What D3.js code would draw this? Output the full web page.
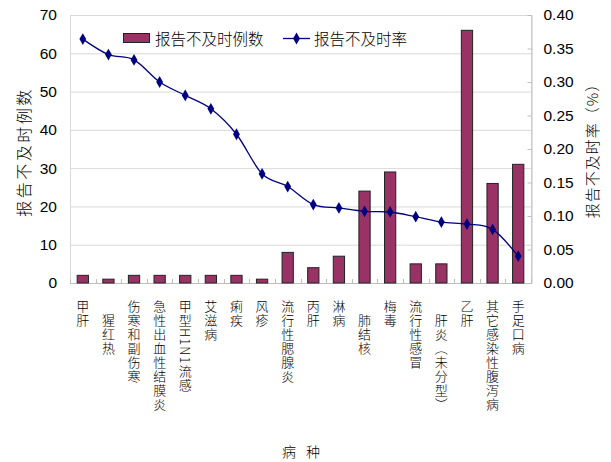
<!DOCTYPE html>
<html><head><meta charset="utf-8">
<script src="https://cdn.jsdelivr.net/npm/d3@7"></script>
<style>
body{margin:0;background:#fff;}
svg{display:block;}
text{font-family:"Noto Sans CJK SC","Liberation Sans",Arial,sans-serif;fill:#000;}
.num{font-family:"Liberation Sans",Arial,sans-serif;}
</style></head>
<body>
<svg id="chart" width="611" height="462"></svg>
<script>
const categories = ["甲肝","\u3000猩红热","伤寒和副伤寒","急性出血性结膜炎","甲型H1N1流感","艾滋病","痢疾","风疹","流行性腮腺炎","丙肝","淋病","\u3000肺结核","梅毒","流行性感冒","\u3000肝炎（未分型）","乙肝","其它感染性腹泻病","手足口病"];
const lateCounts = [2,1,2,2,2,2,2,1,8,4,7,24,29,5,5,66,26,31];
const lateRates = [0.364,0.341,0.333,0.300,0.280,0.260,0.222,0.163,0.144,0.117,0.112,0.107,0.106,0.099,0.091,0.088,0.080,0.040];
const leftTicks = [0,10,20,30,40,50,60,70];
const rightTicks = [0,0.05,0.10,0.15,0.20,0.25,0.30,0.35,0.40];
const seriesNames = ["报告不及时例数","报告不及时率"];
const leftTitle = "报告不及时例数";
const rightTitle = "报告不及时率（%）";
const xTitle = "病 种";

const svg = d3.select("#chart");
const m = {l:70, r:80, t:15, b:179};
const W = 611, H = 462;
const iw = W - m.l - m.r, ih = H - m.t - m.b;
const g = svg.append("g").attr("transform",`translate(${m.l},${m.t})`);

const x = d3.scaleBand().domain(categories).range([0,iw]).paddingInner(0.56).paddingOuter(0.28);
const yL = d3.scaleLinear().domain([0,70]).range([ih,0]);
const yR = d3.scaleLinear().domain([0,0.4]).range([ih,0]);

// gridlines
g.append("g").selectAll("line").data(leftTicks).join("line")
  .attr("x1",0).attr("x2",iw).attr("y1",d=>yL(d)+0.5).attr("y2",d=>yL(d)+0.5)
  .attr("stroke","#d9d9d9").attr("stroke-width",1);
// frame
g.append("rect").attr("x",0.5).attr("y",0.5).attr("width",iw).attr("height",ih)
  .attr("fill","none").attr("stroke","#d9d9d9");

// left axis
const ax = d3.axisLeft(yL).tickValues(leftTicks).tickSize(0).tickPadding(13);
const gL = g.append("g").call(ax);
gL.select(".domain").remove();
gL.selectAll("text").attr("class","num").style("font-size","15.5px").attr("fill","#000");

// right axis
const axR = d3.axisRight(yR).tickValues(rightTicks).tickSize(-4).tickPadding(12).tickFormat(d3.format(".2f"));
const gR = g.append("g").attr("transform",`translate(${iw+0.5},0)`).call(axR);
gR.select(".domain").attr("stroke","#bfbfbf");
gR.selectAll(".tick line").attr("stroke","#bfbfbf");
gR.selectAll("text").attr("class","num").style("font-size","15.5px").attr("fill","#000");

// bottom axis
const gB = g.append("g").attr("transform",`translate(0,${ih})`);
gB.append("line").attr("x1",0).attr("x2",iw).attr("y1",0.5).attr("y2",0.5).attr("stroke","#bfbfbf");
gB.selectAll("line.tk").data(d3.range(categories.length+1)).join("line").attr("class","tk")
  .attr("x1",i=>Math.round(i*x.step())+0.5).attr("x2",i=>Math.round(i*x.step())+0.5)
  .attr("y1",0).attr("y2",-4).attr("stroke","#bfbfbf");
gB.selectAll("text").data(categories).join("text")
  .attr("x",d=>x(d)+x.bandwidth()/2).attr("y",17)
  .style("writing-mode","vertical-rl").style("text-orientation","mixed")
  .style("font-size","13px").style("font-weight","300").style("letter-spacing","1px")
  .attr("text-anchor","start").text(d=>d);

// bars
g.append("g").selectAll("rect").data(lateCounts).join("rect")
  .attr("x",(d,i)=>x(categories[i])).attr("width",x.bandwidth())
  .attr("y",d=>yL(d)).attr("height",d=>yL(0)-yL(d))
  .attr("fill","#993366").attr("stroke","#222").attr("stroke-width",1);

// line
const line = d3.line().x((d,i)=>x(categories[i])+x.bandwidth()/2).y(d=>yR(d)).curve(d3.curveCardinal.tension(0));
g.append("path").datum(lateRates).attr("d",line).attr("fill","none").attr("stroke","#000080").attr("stroke-width",1.3);
const diamond = d3.symbol().type(d3.symbolDiamond).size(40);
g.append("g").selectAll("path").data(lateRates).join("path")
  .attr("transform",(d,i)=>`translate(${x(categories[i])+x.bandwidth()/2},${yR(d)})`)
  .attr("d",diamond).attr("fill","#000080");

// legend
const lg = svg.append("g");
lg.append("rect").attr("x",123.5).attr("y",33.5).attr("width",26).attr("height",9).attr("fill","#993366").attr("stroke","#222");
lg.append("text").attr("x",155).attr("y",44.5).style("font-size","15.5px").style("font-weight","300").text(seriesNames[0]);
lg.append("line").attr("x1",283).attr("x2",310).attr("y1",38.5).attr("y2",38.5).attr("stroke","#000080").attr("stroke-width",1.3);
lg.append("path").attr("transform","translate(296.5,38.5)").attr("d",diamond).attr("fill","#000080");
lg.append("text").attr("x",314).attr("y",44.5).style("font-size","15.5px").style("font-weight","300").text(seriesNames[1]);

// axis titles
svg.append("text").attr("transform","translate(30,152) rotate(-90)").attr("text-anchor","middle")
  .style("font-size","16px").style("font-weight","300").style("letter-spacing","2.5px").text(leftTitle);
svg.append("text").attr("transform","translate(598,147) rotate(-90)").attr("text-anchor","middle")
  .style("font-size","15px").style("font-weight","300").style("letter-spacing","1px").text(rightTitle);
svg.append("text").attr("x",301).attr("y",457).attr("text-anchor","middle")
  .style("font-size","14px").style("font-weight","300").style("word-spacing","7px").style("white-space","pre").text(xTitle);
</script>
</body></html>
